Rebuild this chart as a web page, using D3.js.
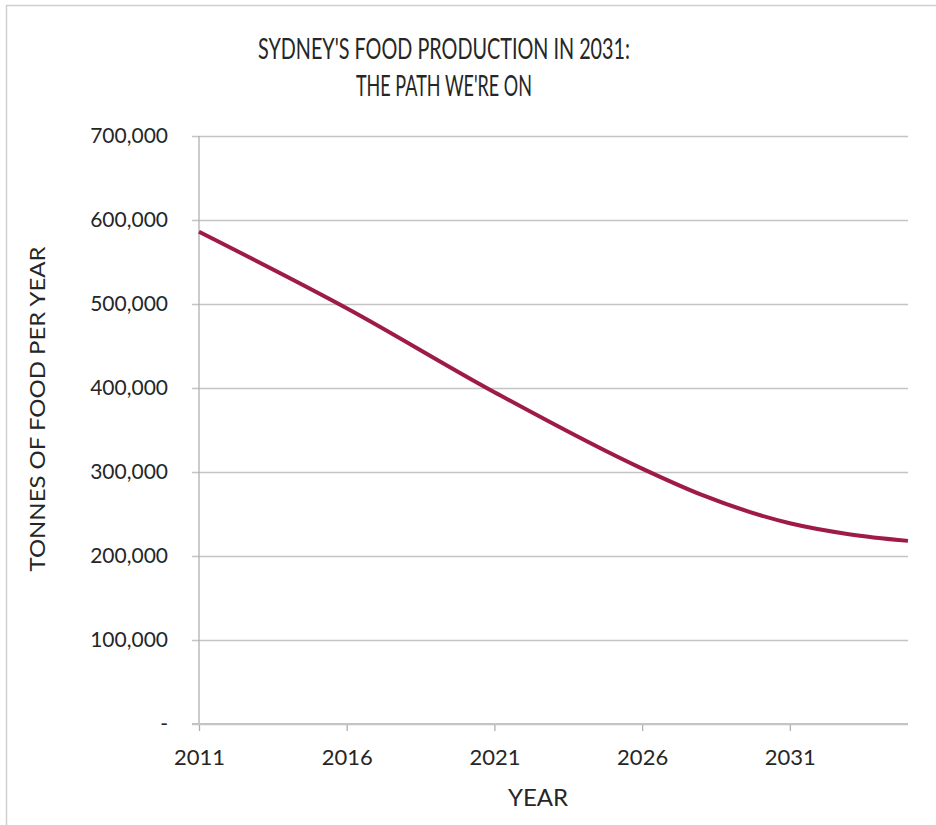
<!DOCTYPE html>
<html>
<head>
<meta charset="utf-8">
<script src="https://cdn.jsdelivr.net/npm/d3@7"></script>
<style>
  body { margin: 0; background: #fff; }
  text { font-family: Lato, "DejaVu Sans", sans-serif; fill: #262626; }
</style>
</head>
<body>
<script>
// tonnes of food per year
const years = [2011, 2016, 2021, 2026, 2028, 2031, 2033, 2035];
const tonnes = [586000, 495000, 395000, 304000, 273000, 239000, 226000, 218000];
const yTicks = [0, 100000, 200000, 300000, 400000, 500000, 600000, 700000];
const xTicks = [2011, 2016, 2021, 2026, 2031];
const titleLines = ["SYDNEY'S FOOD PRODUCTION IN 2031:", "THE PATH WE'RE ON"];
const titleWidths = [372, 176];

const width = 936;
const height = 825;

const svg = d3.select("body").append("svg").attr("width", width).attr("height", height);

// light frame around the chart (right / bottom run off the picture)
svg.append("rect")
  .attr("x", 6.5).attr("y", 5.5)
  .attr("width", width + 10).attr("height", height + 10)
  .attr("fill", "none").attr("stroke", "#d0d0d0").attr("stroke-width", 1.5);

const xScale = d3.scaleLinear().domain([2011, 2035]).range([199, 908]);
const yScale = d3.scaleLinear().domain([0, 700000]).range([724, 136]);

// gridlines + y labels
const axisy = d3.axisLeft(yScale)
  .tickValues(yTicks)
  .tickSize(-(908 - 192))
  .tickPadding(24)
  .tickFormat(d => d === 0 ? "-" : d3.format(",")(d));

const gy = svg.append("g")
  .attr("transform", "translate(192,0)")
  .call(axisy);
gy.select(".domain").remove();
gy.selectAll(".tick line").attr("stroke", "#c4c4c4").attr("stroke-width", 1.3);
gy.selectAll(".tick text").attr("font-size", 21).attr("fill", "#262626");

// vertical axis line
svg.append("line")
  .attr("x1", xScale(2011)).attr("x2", xScale(2011))
  .attr("y1", yScale(700000)).attr("y2", yScale(0))
  .attr("stroke", "#b0b0b0").attr("stroke-width", 1.3);

// x axis
const axisx = d3.axisBottom(xScale)
  .tickValues(xTicks)
  .tickSize(7)
  .tickSizeOuter(0)
  .tickPadding(18)
  .tickFormat(d3.format("d"));

const gx = svg.append("g")
  .attr("transform", "translate(0," + yScale(0) + ")")
  .call(axisx);
gx.select(".domain").remove();
gx.append("line")
  .attr("x1", 192).attr("x2", 908)
  .attr("stroke", "#c4c4c4").attr("stroke-width", 2);
gx.selectAll(".tick line").attr("stroke", "#b0b0b0").attr("stroke-width", 1.3);
gx.selectAll(".tick text").attr("font-size", 22).attr("fill", "#262626");

// the line
const line = d3.line()
  .x((d, i) => xScale(years[i]))
  .y(d => yScale(d))
  .curve(d3.curveMonotoneX);

svg.append("path")
  .datum(tonnes)
  .attr("d", line)
  .attr("fill", "none")
  .attr("stroke", "#9f1b47")
  .attr("stroke-width", 4);

// title
svg.selectAll(".title")
  .data(titleLines)
  .enter()
  .append("text")
  .attr("class", "title")
  .attr("x", 444)
  .attr("y", (d, i) => 59 + i * 37)
  .attr("text-anchor", "middle")
  .attr("font-size", 28)
  .attr("textLength", (d, i) => titleWidths[i])
  .attr("lengthAdjust", "spacingAndGlyphs")
  .text(d => d);

// axis titles
svg.append("text")
  .attr("x", 538).attr("y", 806)
  .attr("text-anchor", "middle")
  .attr("font-size", 24)
  .text("YEAR");

svg.append("text")
  .attr("transform", "translate(45,409) rotate(-90)")
  .attr("text-anchor", "middle")
  .attr("font-size", 22)
  .attr("textLength", 325)
  .attr("lengthAdjust", "spacingAndGlyphs")
  .text("TONNES OF FOOD PER YEAR");
</script>
</body>
</html>
